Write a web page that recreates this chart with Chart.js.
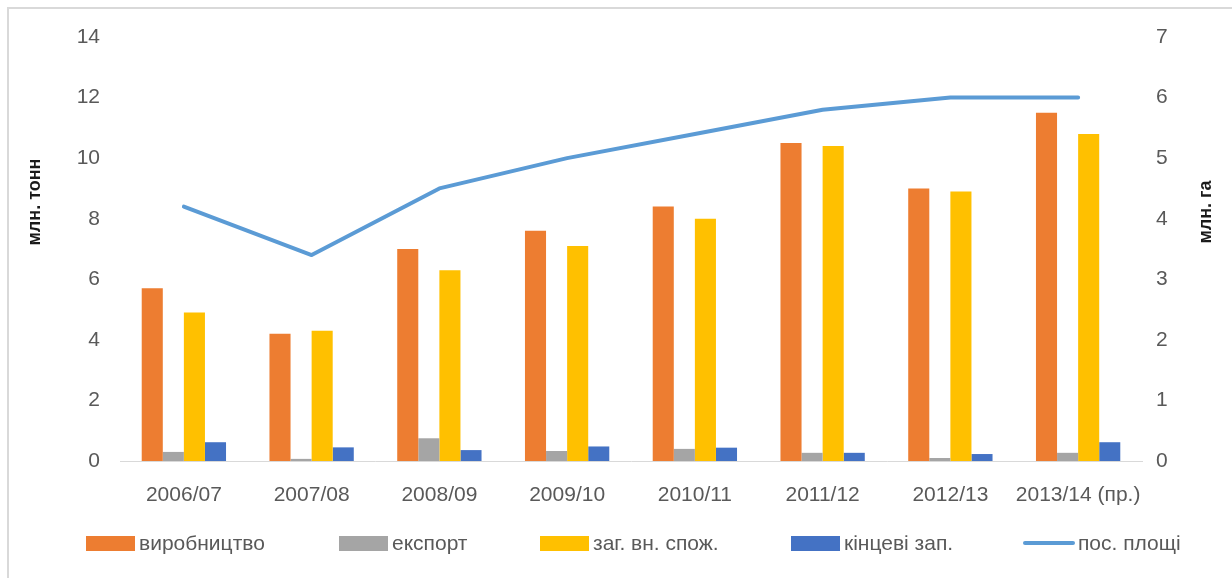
<!DOCTYPE html>
<html>
<head>
<meta charset="utf-8">
<script src="https://cdn.jsdelivr.net/npm/chart.js@4/dist/chart.umd.min.js"></script>
<style>
  html, body { margin: 0; padding: 0; background: #fff; }
  #wrap { position: relative; width: 1232px; height: 578px; overflow: hidden; background: #fff; }
  #frame { position: absolute; left: 7px; top: 7px; width: 1240px; height: 600px; border-left: 2px solid #d9d9d9; border-top: 2px solid #d9d9d9; box-sizing: border-box; pointer-events: none; }
  canvas { position: absolute; left: 0; top: 0; }
  .lg { position: absolute; top: 530px; height: 26px; display: flex; align-items: center; font-family: "Liberation Sans", Arial, sans-serif; font-size: 21px; color: #595959; white-space: nowrap; }
  .lg .sw { width: 49px; height: 15px; margin-right: 4px; }
  .lg .ln { width: 52px; height: 4px; border-radius: 2px; margin-right: 3px; }
</style>
</head>
<body>
<div id="wrap">
  <canvas id="c" width="1232" height="578"></canvas>
  <div id="frame"></div>
</div>
<script>
// ---- data ----
const categories = ["2006/07", "2007/08", "2008/09", "2009/10", "2010/11", "2011/12", "2012/13", "2013/14 (пр.)"];
const production  = [5.7, 4.2, 7.0, 7.6, 8.4, 10.5, 9.0, 11.5];
const exportVals  = [0.3, 0.07, 0.75, 0.33, 0.4, 0.27, 0.1, 0.27];
const consumption = [4.9, 4.3, 6.3, 7.1, 8.0, 10.4, 8.9, 10.8];
const endStocks   = [0.62, 0.45, 0.36, 0.48, 0.44, 0.27, 0.23, 0.62];
const sownArea    = [4.2, 3.4, 4.5, 5.0, 5.4, 5.8, 6.0, 6.0];
const leftTicks   = [0, 2, 4, 6, 8, 10, 12, 14];
const rightTicks  = [0, 1, 2, 3, 4, 5, 6, 7];
const seriesNames = ["виробництво", "експорт", "заг. вн. спож.", "кінцеві зап.", "пос. площі"];
const leftTitle = "млн. тонн";
const rightTitle = "млн. га";

// ---- styles ----
const colors = ["#ed7d31", "#a5a5a5", "#ffc000", "#4472c4", "#5b9bd5"];
const tickFont = { family: "'Liberation Sans', Arial, sans-serif", size: 21 };
const tickColor = "#595959";

const titlePlugin = {
  id: "sideTitles",
  afterDraw(chart) {
    const ctx = chart.ctx;
    ctx.save();
    ctx.fillStyle = "#1a1a1a";
    ctx.font = "bold 18px 'Liberation Sans', Arial, sans-serif";
    ctx.textAlign = "center";
    ctx.textBaseline = "middle";
    [[leftTitle, 35, 202], [rightTitle, 1206, 212]].forEach(([t, x, y]) => {
      ctx.save();
      ctx.translate(x, y);
      ctx.rotate(-Math.PI / 2);
      ctx.fillText(t, 0, 0);
      ctx.restore();
    });
    ctx.restore();
  }
};

const barCommon = { yAxisID: "y", categoryPercentage: 0.66, barPercentage: 1.0, borderWidth: 0, order: 1 };
const barData = [production, exportVals, consumption, endStocks];

const datasets = barData.map((d, i) => Object.assign({
  type: "bar", label: seriesNames[i], data: d, backgroundColor: colors[i]
}, barCommon));
datasets.push({
  type: "line", label: seriesNames[4], data: sownArea, yAxisID: "y1",
  borderColor: colors[4], backgroundColor: colors[4], borderWidth: 4,
  pointRadius: 0, tension: 0, order: 0, borderCapStyle: "round", borderJoinStyle: "round"
});

new Chart(document.getElementById("c"), {
  type: "bar",
  data: { labels: categories, datasets },
  options: {
    responsive: false,
    animation: false,
    layout: { padding: { top: 37, left: 0, right: 0, bottom: 0 } },
    plugins: { legend: { display: false }, tooltip: { enabled: false } },
    scales: {
      x: {
        offset: true,
        grid: { display: false, drawTicks: false },
        border: { display: true, color: "#d9d9d9", width: 1 },
        ticks: { color: tickColor, font: tickFont, padding: 22, maxRotation: 0, autoSkip: false },
        afterFit(s) { s.height = 117; }
      },
      y: {
        position: "left", min: 0, max: 14,
        afterBuildTicks(s) { s.ticks = leftTicks.map(v => ({ value: v })); },
        grid: { display: false, drawTicks: false },
        border: { display: false },
        ticks: { color: tickColor, font: tickFont, padding: 20 },
        afterFit(s) { s.width = 120; }
      },
      y1: {
        position: "right", min: 0, max: 7,
        afterBuildTicks(s) { s.ticks = rightTicks.map(v => ({ value: v })); },
        grid: { display: false, drawTicks: false },
        border: { display: false },
        ticks: { color: tickColor, font: tickFont, padding: 14 },
        afterFit(s) { s.width = 90; }
      }
    }
  },
  plugins: [titlePlugin]
});

// ---- legend (HTML, built from series names/colors) ----
const legendLeft = [86, 339, 540, 791, 1023];
const wrap = document.getElementById("wrap");
seriesNames.forEach((name, i) => {
  const item = document.createElement("div");
  item.className = "lg";
  item.style.left = legendLeft[i] + "px";
  const sw = document.createElement("span");
  sw.className = i === 4 ? "ln" : "sw";
  sw.style.background = colors[i];
  const tx = document.createElement("span");
  tx.textContent = name;
  item.appendChild(sw);
  item.appendChild(tx);
  wrap.appendChild(item);
});
</script>
</body>
</html>
